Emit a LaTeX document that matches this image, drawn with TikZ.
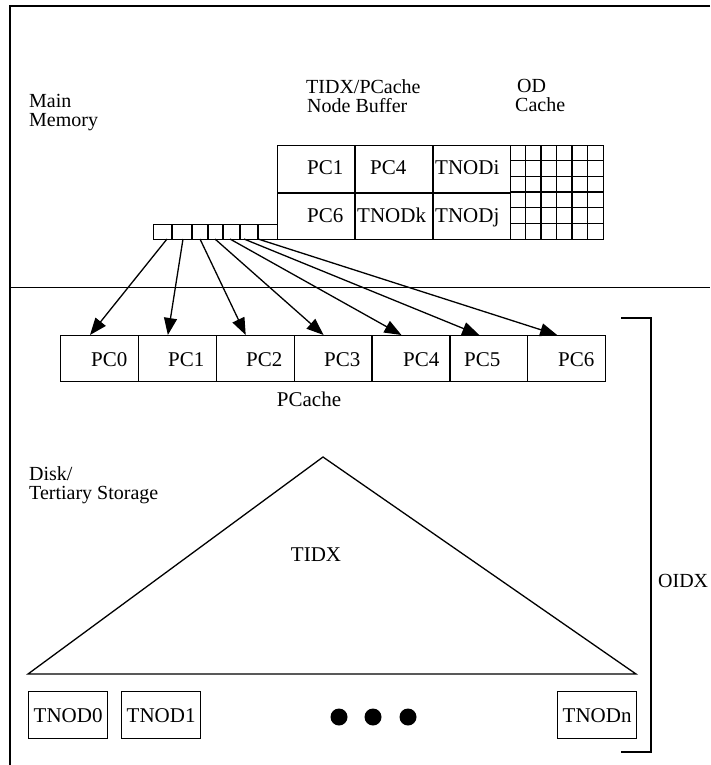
\documentclass[tikz,border=0pt]{standalone}
\usepackage{fontspec}
\setmainfont{Liberation Serif}
\usetikzlibrary{arrows.meta}
\begin{document}
\begin{tikzpicture}[x=1pt,y=-1pt,
  lab/.style={font=\fontsize{20}{19}\selectfont, inner sep=0pt, align=left, anchor=north west},
  txt/.style={font=\fontsize{21}{19}\selectfont, inner sep=0pt, anchor=base west},
  ctxt/.style={font=\fontsize{21}{19}\selectfont, inner sep=0pt},
  ln/.style={line width=1.3pt},
  cell/.style={draw, line width=1.3pt, inner sep=0pt, minimum width=77.86pt, minimum height=46pt, anchor=north west},
  tbox/.style={draw, line width=1.3pt, inner sep=0pt, minimum width=79pt, minimum height=47pt, anchor=north west, font=\fontsize{21}{19}\selectfont},
  arr/.style={line width=1.3pt, -{Triangle[length=17pt,width=13pt]}}]
\useasboundingbox (0,0) rectangle (710,765);
% frame and divider
\draw[line width=2pt] (710,6) -- (10,6) -- (10,765);
\draw[line width=1pt] (10,287) -- (710,287);
% labels
\node[lab] (mm) at (29,94) {Main\\Memory};
\node[lab] (nbl) at (306,79) {TIDX/PCache\\\hspace*{1pt}Node Buffer};
\node[lab] (odl) at (515,79) {\hspace*{2pt}OD\\Cache};
\node[lab] (disk) at (29,466) {Disk/\\Tertiary Storage};
% node buffer
\node[draw, ln, inner sep=0pt, minimum width=233pt, minimum height=94pt, anchor=north west] (nb) at (277,145) {};
\draw[ln] (277,193) -- (510,193);
\draw[ln] (355,145) -- (355,239);
\draw[ln] (433,145) -- (433,239);
\node[txt] (b1) at (307,174) {PC1};
\node[txt] (b2) at (370,174) {PC4};
\node[txt] (b3) at (435,174) {TNODi};
\node[txt] (b4) at (307,222) {PC6};
\node[txt] (b5) at (357,222) {TNODk};
\node[txt] (b6) at (435,222) {TNODj};
% OD cache grid
\node[draw, ln, inner sep=0pt, minimum width=93pt, minimum height=94pt, anchor=north west] (od) at (510,145) {};
\foreach \i in {1,...,5} {
  \draw[ln] (510+15.5*\i,145) -- (510+15.5*\i,239);
  \draw[ln] (510,145+15.67*\i) -- (603,145+15.67*\i);
}
% pointer array
\node[draw, ln, inner sep=0pt, minimum width=124pt, minimum height=15pt, anchor=north west] (pa) at (153,224) {};
\foreach \x in {172,192,208,223,240,258} \draw[ln] (\x,224) -- (\x,239);
% PCache cells
\foreach \i in {0,...,6} {
  \node[cell] (c\i) at (60+77.86*\i,335) {};
  \coordinate (t\i) at (90+77.86*\i,335);
}
\node[txt] at (91,366) {PC0};
\node[txt] at (168,366) {PC1};
\node[txt] at (246,366) {PC2};
\node[txt] at (324,366) {PC3};
\node[txt] at (403,366) {PC4};
\node[txt] at (464,366) {PC5};
\node[txt] at (558,366) {PC6};
\node[ctxt] (pcl) at (309,399) {PCache};
% arrows
\foreach \sx [count=\k from 0] in {167,183,200,215,230,244,258} {
  \coordinate (s\k) at (\sx,239);
  \draw[arr] (s\k) -- (t\k);
}
% TIDX triangle
\draw[ln] (323,457) -- (636,674) -- (28,674) -- cycle;
\node[ctxt] (tidx) at (316,555) {TIDX};
% TNOD boxes
\node[tbox] (n0) at (28,691) {TNOD0};
\node[tbox] (n1) at (121,691) {TNOD1};
\node[tbox] (nn) at (557,691) {TNODn};
\foreach \x in {339,373,408} \fill (\x,717) circle[radius=8.5];
% OIDX bracket
\draw[ln] (621,318) -- (651,318) -- (651,752) -- (621,752);
\node[txt, font=\fontsize{20}{19}\selectfont] (oidx) at (658,587) {OIDX};
\end{tikzpicture}
\end{document}
